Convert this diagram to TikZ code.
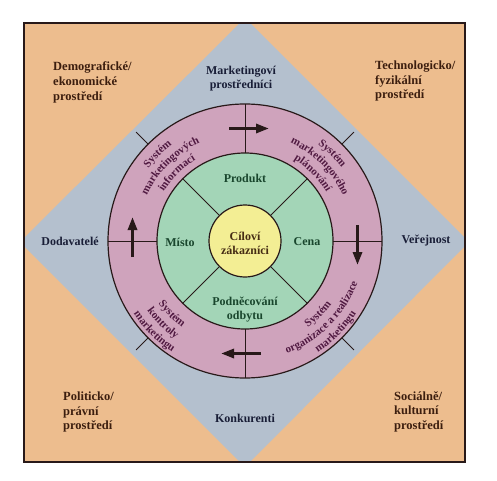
\documentclass[tikz,border=0pt]{standalone}
\usepackage{fontspec}
\setmainfont{Liberation Serif}
\usetikzlibrary{decorations.text,arrows.meta}
\definecolor{bgorange}{RGB}{237,189,142}
\definecolor{dblue}{RGB}{180,192,206}
\definecolor{ringpink}{RGB}{207,163,188}
\definecolor{ringgreen}{RGB}{163,213,183}
\definecolor{coreyellow}{RGB}{243,238,148}
\definecolor{lineclr}{RGB}{40,25,25}
\definecolor{cornertxt}{RGB}{60,30,15}
\definecolor{bluetxt}{RGB}{25,30,55}
\definecolor{greentxt}{RGB}{25,70,45}
\definecolor{ringtxt}{RGB}{80,25,65}
\definecolor{yellowtxt}{RGB}{70,45,20}
\newcommand\ringfont{\fontsize{11}{13}\selectfont\bfseries}
\begin{document}
\begin{tikzpicture}[x=1pt,y=1pt,
  lbl/.style={font=\fontsize{12}{14}\selectfont\bfseries, align=center, inner sep=0pt},
  corner/.style={font=\fontsize{12.5}{14.5}\selectfont\bfseries, align=left, inner sep=0pt, text=cornertxt, anchor=north west},
  edge/.style={line width=1.2pt, draw=lineclr},
  divider/.style={line width=1pt, draw=lineclr},
  arr/.style={line width=3pt, draw=lineclr, -{Triangle[length=13pt,width=9pt]}},
  ringtext/.style={decorate, decoration={text along path, text align=center, text color=ringtxt, text={|\ringfont|#1}}}]
\useasboundingbox (0,0) rectangle (497,480);
% background frame and diamond
\fill[bgorange] (24,18) rectangle (465,457);
\begin{scope}
  \clip (24,18) rectangle (465,457);
  \fill[dblue] (20,238) -- (245,462) -- (469,238) -- (245,13) -- cycle;
\end{scope}
\draw[line width=1.3pt, draw=lineclr] (24,18) rectangle (465,457);
% rings
\begin{scope}[shift={(245,239)}]
  \fill[ringpink] (0,0) circle (137);
  \draw[edge] (0,0) circle (137);
  \fill[ringgreen] (0,0) circle (88);
  \draw[edge] (0,0) circle (88);
  \fill[coreyellow] (0,0) circle (36);
  \draw[edge] (0,0) circle (36);
  \foreach \a in {45,135,225,315} {
    \draw[divider] (\a:36) -- (\a:88);
    \draw[divider] (\a:137) -- (\a:154);
  }
  \foreach \a in {0,90,180,270} {
    \draw[divider] (\a:88) -- (\a:137);
  }
  % arrows (clockwise)
  \draw[arr] (-16,112.5) -- (24,112.5);
  \draw[arr] (112.5,16) -- (112.5,-24);
  \draw[arr] (16,-112.5) -- (-24,-112.5);
  \draw[arr] (-112.5,-16) -- (-112.5,24);
  % ring texts: upper-left
  \path[ringtext=Systém] (175:121) arc[start angle=175, end angle=95, radius=121];
  \path[ringtext=marketingových] (175:108) arc[start angle=175, end angle=95, radius=108];
  \path[ringtext=informací] (175:95) arc[start angle=175, end angle=95, radius=95];
  % upper-right
  \path[ringtext=Systém] (85:121) arc[start angle=85, end angle=5, radius=121];
  \path[ringtext=marketingového] (85:108) arc[start angle=85, end angle=5, radius=108];
  \path[ringtext=plánování] (85:95) arc[start angle=85, end angle=5, radius=95];
  % lower-right
  \path[ringtext=Systém] (-85:107) arc[start angle=-85, end angle=-5, radius=107];
  \path[ringtext=organizace a realizace] (-85:120) arc[start angle=-85, end angle=-5, radius=120];
  \path[ringtext=marketingu] (-85:133) arc[start angle=-85, end angle=-5, radius=133];
  % lower-left
  \path[ringtext=Systém] (185:107) arc[start angle=185, end angle=265, radius=107];
  \path[ringtext=kontroly] (185:120) arc[start angle=185, end angle=265, radius=120];
  \path[ringtext=marketingu] (185:133) arc[start angle=185, end angle=265, radius=133];
\end{scope}
% centre and green ring labels
\node[lbl, text=yellowtxt] (cil) at (245,237) {Cíloví\\zákazníci};
\node[lbl, text=greentxt] (produkt) at (245,302) {Produkt};
\node[lbl, text=greentxt] (misto) at (180,238) {Místo};
\node[lbl, text=greentxt] (cena) at (307,238) {Cena};
\node[lbl, text=greentxt] (podn) at (245,170) {Podněcování\\odbytu};
% diamond labels
\node[lbl, text=bluetxt] (mp) at (241,401) {Marketingoví\\prostředníci};
\node[lbl, text=bluetxt] (dod) at (70,239) {Dodavatelé};
\node[lbl, text=bluetxt] (ver) at (426,239) {Veřejnost};
\node[lbl, text=bluetxt] (konk) at (245,62) {Konkurenti};
% corner labels
\node[corner] (demo) at (53,418) {Demografické/\\ekonomické\\prostředí};
\node[corner] (tech) at (375,419) {Technologicko/\\fyzikální\\prostředí};
\node[corner] (pol) at (63,88) {Politicko/\\právní\\prostředí};
\node[corner] (soc) at (394,89) {Sociálně/\\kulturní\\prostředí};
\end{tikzpicture}
\end{document}
